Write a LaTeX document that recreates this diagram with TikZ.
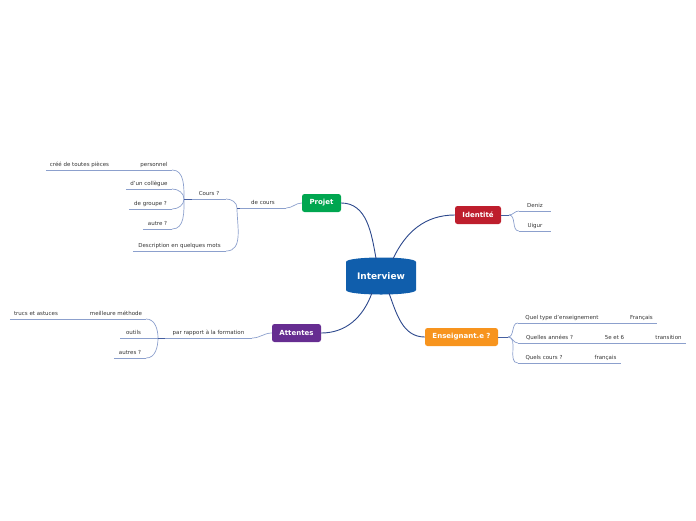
\documentclass[tikz,border=0pt]{standalone}
\usepackage{fontspec}
\setmainfont{DejaVu Sans}
\usetikzlibrary{positioning}

\definecolor{ivblue}{RGB}{16,94,172}
\definecolor{projgreen}{RGB}{0,166,80}
\definecolor{idred}{RGB}{190,30,45}
\definecolor{attpurple}{RGB}{102,45,145}
\definecolor{ensorange}{RGB}{247,148,30}
\definecolor{linkdark}{RGB}{44,72,140}
\definecolor{sublight}{RGB}{140,160,205}
\definecolor{stubdark}{RGB}{70,95,160}
\definecolor{leaftext}{RGB}{51,51,51}

\tikzset{
  topic/.style={rounded corners=2.5pt, minimum height=18pt, inner sep=0pt,
    text=white, font=\fontsize{7}{8}\selectfont\bfseries},
  leaf/.style={anchor=south, inner xsep=0pt, inner ysep=2.5pt, text=leaftext,
    text height=3.9pt, text depth=1pt, font=\fontsize{5.5}{6}\selectfont},
  mainlink/.style={draw=linkdark, line width=0.9pt},
  subline/.style={draw=sublight, line width=0.7pt},
  stub/.style={draw=stubdark, line width=1pt}
}

\begin{document}
\begin{tikzpicture}[x=1pt, y=1pt]
  \useasboundingbox (0,0) rectangle (696,-520);

  % Central topic
  \fill[ivblue] (346,-262) .. controls (346,-256) and (416,-256) .. (416,-262)
    -- (416,-290) .. controls (416,-296) and (346,-296) .. (346,-290) -- cycle;
  \node[text=white, font=\fontsize{9}{10}\selectfont\bfseries, inner sep=0pt,
    minimum width=70pt, minimum height=34pt] (interview) at (381,-276) {Interview};

  % Main topics
  \node[topic, fill=projgreen, minimum width=39pt] (projet) at (321.5,-203) {Projet};
  \node[topic, fill=idred, minimum width=46pt] (identite) at (478,-215) {Identité};
  \node[topic, fill=attpurple, minimum width=49pt] (attentes) at (296.5,-333) {Attentes};
  \node[topic, fill=ensorange, minimum width=73pt] (enseignant) at (461.5,-337) {Enseignant.e ?};

  \draw[mainlink] (interview.106) to[out=100, in=0] (projet.east);
  \draw[mainlink] (interview.55) to[out=65, in=180] (identite.west);
  \draw[mainlink] (interview.-118) to[out=-110, in=0] (attentes.east);
  \draw[mainlink] (interview.-65) to[out=-70, in=180] (enseignant.west);

  % Projet branch
  \node[leaf, minimum width=46pt] (decours) at (263,-208) {de cours};
  \node[leaf, minimum width=34pt] (cours) at (209,-199) {Cours ?};
  \node[leaf, minimum width=93pt] (descr) at (179.5,-251) {Description en quelques mots};
  \node[leaf, minimum width=36pt] (personnel) at (154,-170) {personnel};
  \node[leaf, minimum width=67pt] (cree) at (79.5,-170) {créé de toutes pièces};
  \node[leaf, minimum width=46pt] (collegue) at (149,-189) {d'un collègue};
  \node[leaf, minimum width=43pt] (groupe) at (150.5,-209) {de groupe ?};
  \node[leaf, minimum width=29pt] (autre) at (157.5,-229) {autre ?};
  \coordinate (decbr) at (237,-208);
  \coordinate (coursbr) at (184,-199);

  \draw[subline] (decours.south east) to[out=0, in=180] (projet.west);
  \draw[subline] (decbr) -- (decours.south west);
  \draw[subline] (decbr) to[out=90, in=0] (cours.south east);
  \draw[subline] (decbr) to[out=-90, in=0] (descr.south east);
  \draw[subline] (coursbr) -- (cours.south west);
  \draw[subline] (coursbr) to[out=90, in=0] (personnel.south east);
  \draw[subline] (coursbr) to[out=90, in=0] (collegue.south east);
  \draw[subline] (coursbr) to[out=-90, in=0] (groupe.south east);
  \draw[subline] (coursbr) to[out=-90, in=0] (autre.south east);
  \draw[subline] (cree.south east) -- (personnel.south west);

  % Attentes branch
  \node[leaf, minimum width=87pt] (formation) at (208.5,-338) {par rapport à la formation};
  \node[leaf, minimum width=60pt] (methode) at (116,-319) {meilleure méthode};
  \node[leaf, minimum width=52pt] (astuces) at (36,-319) {trucs et astuces};
  \node[leaf, minimum width=26pt] (outils) at (133.5,-338) {outils};
  \node[leaf, minimum width=32pt] (autres) at (130,-358) {autres ?};
  \coordinate (formbr) at (158,-338);

  \draw[subline] (attentes.west) to[out=180, in=0] (formation.south east);
  \draw[subline] (formbr) -- (formation.south west);
  \draw[subline] (formbr) to[out=90, in=0] (methode.south east);
  \draw[subline] (formbr) -- (outils.south east);
  \draw[subline] (formbr) to[out=-90, in=0] (autres.south east);
  \draw[subline] (astuces.south east) -- (methode.south west);

  % Identite branch
  \node[leaf, minimum width=32pt] (deniz) at (535,-211) {Deniz};
  \node[leaf, minimum width=32pt] (uigur) at (535,-231) {Uigur};
  \coordinate (idbr) at (509,-215);

  \draw[subline] (idbr) to[out=0, in=180] (deniz.south west);
  \draw[subline] (idbr) to[out=0, in=180] (uigur.south west);

  % Enseignant branch
  \node[leaf, minimum width=88pt] (enstype) at (562,-323) {Quel type d'enseignement};
  \node[leaf, minimum width=31pt] (francaisA) at (641.5,-323) {Français};
  \node[leaf, minimum width=63pt] (annees) at (549.5,-343) {Quelles années ?};
  \node[leaf, minimum width=33pt] (cinq) at (614.5,-343) {5e et 6};
  \node[leaf, minimum width=35pt] (transition) at (668.5,-343) {transition};
  \node[leaf, minimum width=52pt] (quelscours) at (544,-363) {Quels cours ?};
  \node[leaf, minimum width=31pt] (francaisB) at (605.5,-363) {français};
  \coordinate (ensbr) at (508,-337);

  \draw[subline] (ensbr) to[out=0, in=180] (enstype.south west);
  \draw[subline] (ensbr) to[out=0, in=180] (annees.south west);
  \draw[subline] (ensbr) to[out=0, in=180] (quelscours.south west);
  \draw[subline] (enstype.south east) -- (francaisA.south west);
  \draw[subline] (annees.south east) -- (cinq.south west);
  \draw[subline] (cinq.south east) -- (transition.south west);
  \draw[subline] (quelscours.south east) -- (francaisB.south west);

  % Underlines
  \foreach \n in {decours, cours, descr, personnel, cree, collegue, groupe, autre,
      formation, methode, astuces, outils, autres, deniz, uigur,
      enstype, francaisA, annees, cinq, transition, quelscours, francaisB}
    \draw[subline] (\n.south west) -- (\n.south east);

  % Branch stubs
  \draw[stub] (decbr) -- (decours.south west);
  \draw[stub] (coursbr) -- (cours.south west);
  \draw[stub] (formbr) -- (formation.south west);
  \draw[stub] (identite.east) -- (idbr);
  \draw[stub] (enseignant.east) -- (ensbr);
\end{tikzpicture}
\end{document}
